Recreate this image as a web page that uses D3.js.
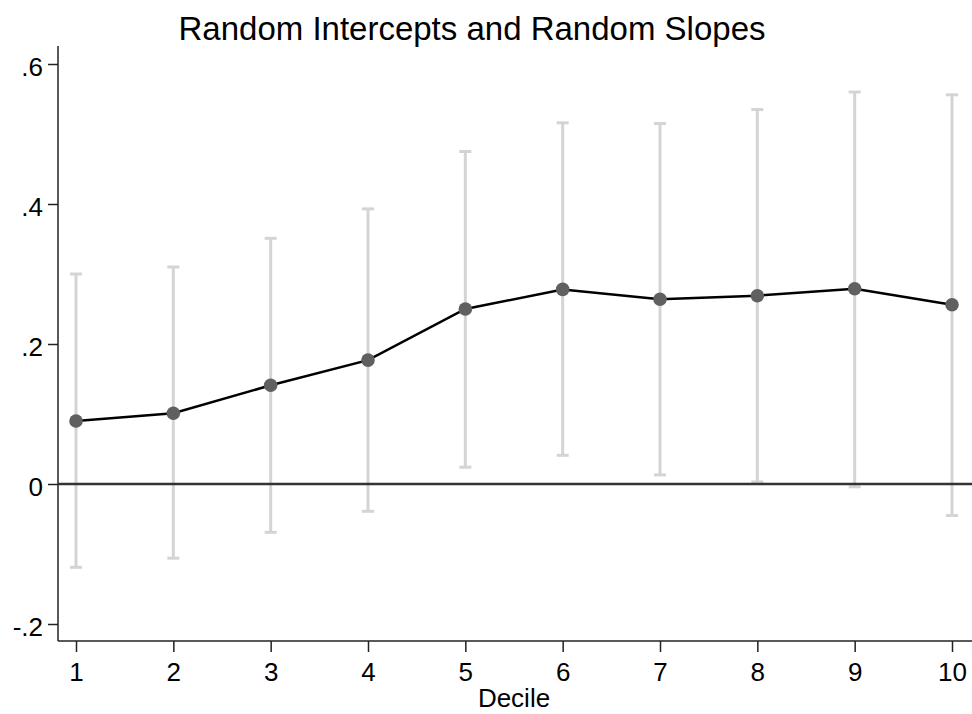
<!DOCTYPE html>
<html>
<head>
<meta charset="utf-8">
<script src="https://cdn.jsdelivr.net/npm/d3@7"></script>
<style>
  body { margin: 0; background: #fff; }
  text { font-family: "Liberation Sans", Arial, sans-serif; fill: #000; }
</style>
</head>
<body>
<div id="chart"></div>
<script>
// chart values
var deciles = [1, 2, 3, 4, 5, 6, 7, 8, 9, 10];
var estimates = [0.090, 0.101, 0.141, 0.177, 0.250, 0.278, 0.264, 0.269, 0.279, 0.256];
var upperCI = [0.300, 0.310, 0.351, 0.393, 0.475, 0.516, 0.515, 0.535, 0.560, 0.556];
var lowerCI = [-0.119, -0.106, -0.069, -0.039, 0.024, 0.041, 0.013, 0.003, -0.004, -0.045];
var yTicks = [-0.2, 0, 0.2, 0.4, 0.6];
var yTickLabels = ["-.2", "0", ".2", ".4", ".6"];

var svgWidth = 972;
var svgHeight = 714;

var svg = d3.select("#chart")
  .append("svg")
  .attr("width", svgWidth)
  .attr("height", svgHeight);

var data = deciles.map(function(d, i) {
  return { decile: d, est: estimates[i], hi: upperCI[i], lo: lowerCI[i] };
});

// scales
var xScale = d3.scaleLinear().domain([1, 10]).range([76, 952]);
var yScale = d3.scaleLinear().domain([0, 0.6]).range([484, 64]);

var axisLeftX = 58;
var axisBottomY = 641;

// plot axes lines
svg.append("line")
  .attr("x1", axisLeftX).attr("x2", axisLeftX)
  .attr("y1", 46).attr("y2", axisBottomY)
  .attr("stroke", "#222").attr("stroke-width", 1.5);

svg.append("line")
  .attr("x1", axisLeftX).attr("x2", svgWidth)
  .attr("y1", axisBottomY).attr("y2", axisBottomY)
  .attr("stroke", "#222").attr("stroke-width", 1.5);

// y axis
var leftAxis = d3.axisLeft(yScale)
  .tickValues(yTicks)
  .tickSize(10)
  .tickPadding(5)
  .tickFormat(function(d, i) { return yTickLabels[i]; });

var yAxisG = svg.append("g")
  .attr("transform", `translate(${axisLeftX}, 0)`)
  .call(leftAxis);
yAxisG.select(".domain").remove();
yAxisG.selectAll(".tick line").attr("stroke", "#222").attr("stroke-width", 1.5);
yAxisG.selectAll(".tick text")
  .attr("font-size", 26)
  .attr("dy", "0.36em")
  .attr("y", 2)
  .style("font-family", '"Liberation Sans", Arial, sans-serif');

// x axis
var bottomAxis = d3.axisBottom(xScale)
  .tickValues(deciles)
  .tickSize(11)
  .tickPadding(11)
  .tickFormat(d3.format("d"));

var xAxisG = svg.append("g")
  .attr("transform", `translate(0, ${axisBottomY})`)
  .call(bottomAxis);
xAxisG.select(".domain").remove();
xAxisG.selectAll(".tick line").attr("stroke", "#222").attr("stroke-width", 1.5);
xAxisG.selectAll(".tick text")
  .attr("font-size", 26)
  .style("font-family", '"Liberation Sans", Arial, sans-serif');

// error bars
var bars = svg.append("g").attr("stroke", "#d4d4d4").attr("stroke-width", 3);

bars.selectAll(".ci")
  .data(data)
  .enter()
  .append("line")
  .attr("x1", d => xScale(d.decile))
  .attr("x2", d => xScale(d.decile))
  .attr("y1", d => yScale(d.hi))
  .attr("y2", d => yScale(d.lo));

bars.selectAll(".capHi")
  .data(data)
  .enter()
  .append("line")
  .attr("x1", d => xScale(d.decile) - 6)
  .attr("x2", d => xScale(d.decile) + 6)
  .attr("y1", d => yScale(d.hi))
  .attr("y2", d => yScale(d.hi));

bars.selectAll(".capLo")
  .data(data)
  .enter()
  .append("line")
  .attr("x1", d => xScale(d.decile) - 6)
  .attr("x2", d => xScale(d.decile) + 6)
  .attr("y1", d => yScale(d.lo))
  .attr("y2", d => yScale(d.lo));

// zero reference line
svg.append("line")
  .attr("x1", axisLeftX).attr("x2", svgWidth)
  .attr("y1", yScale(0)).attr("y2", yScale(0))
  .attr("stroke", "#333").attr("stroke-width", 2.5);

// connecting line
var line = d3.line()
  .x(d => xScale(d.decile))
  .y(d => yScale(d.est));

svg.append("path")
  .datum(data)
  .attr("d", line)
  .attr("fill", "none")
  .attr("stroke", "#000")
  .attr("stroke-width", 2.5);

// points
svg.selectAll(".pt")
  .data(data)
  .enter()
  .append("circle")
  .attr("cx", d => xScale(d.decile))
  .attr("cy", d => yScale(d.est))
  .attr("r", 6.8)
  .attr("fill", "#606060");

// title
svg.append("text")
  .attr("x", 472)
  .attr("y", 40)
  .attr("text-anchor", "middle")
  .attr("font-size", 33)
  .text("Random Intercepts and Random Slopes");

// axis label
svg.append("text")
  .attr("x", 514)
  .attr("y", 707)
  .attr("text-anchor", "middle")
  .attr("font-size", 26)
  .text("Decile");
</script>
</body>
</html>
